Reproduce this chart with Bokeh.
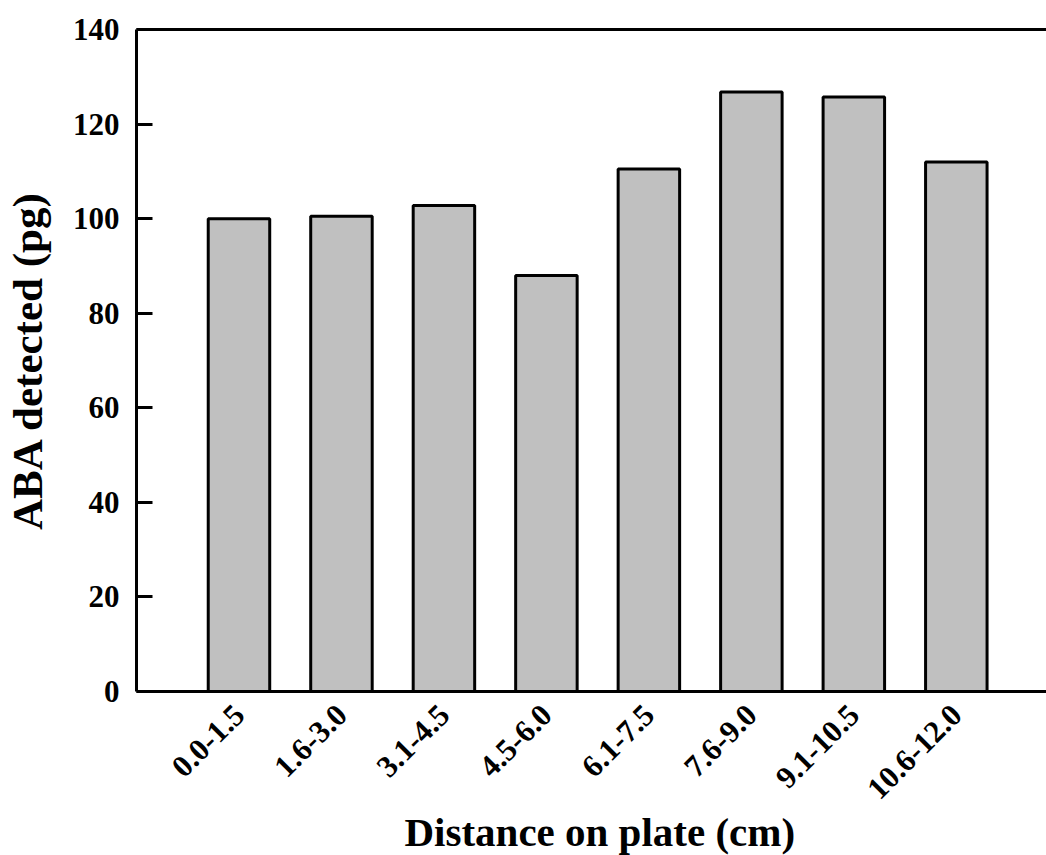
import math
from bokeh.plotting import figure
from bokeh.models import ColumnDataSource, FixedTicker, LinearAxis, Range1d, Title
from bokeh.embed import file_html
from bokeh.resources import INLINE

categories = ["0.0-1.5", "1.6-3.0", "3.1-4.5", "4.5-6.0", "6.1-7.5", "7.6-9.0", "9.1-10.5", "10.6-12.0"]
aba_pg = [100, 100.5, 102.8, 88, 110.5, 126.8, 125.7, 112]
y_ticks = [0, 20, 40, 60, 80, 100, 120, 140]

positions = list(range(1, len(categories) + 1))
source = ColumnDataSource(dict(x=positions, top=aba_pg, label=categories))

FONT = "Liberation Serif"

p = figure(width=1046, height=855, output_backend="svg", toolbar_location=None,
           x_range=Range1d(0, 8.88), y_range=Range1d(0, 140),
           min_border_right=0, min_border_top=29, min_border_left=10, min_border_bottom=164)
p.outline_line_color = None
p.grid.visible = False
p.background_fill_color = "white"
p.border_fill_color = "white"

p.vbar(x="x", top="top", bottom=0, width=0.6, source=source,
       fill_color="#c0c0c0", line_color="black", line_width=3)

xa = p.xaxis[0]
xa.ticker = FixedTicker(ticks=positions)
xa.major_label_overrides = {pos: lab for pos, lab in zip(positions, categories)}
xa.major_label_orientation = math.pi / 4
xa.major_label_text_font = FONT
xa.major_label_text_font_style = "bold"
xa.major_label_text_font_size = "31px"
xa.major_label_text_color = "black"
xa.major_tick_line_color = None
xa.minor_tick_line_color = None
xa.axis_line_width = 3
xa.axis_line_color = "black"
xa.major_label_standoff = 12

x_title = Title(text="Distance on plate (cm)", align="left", offset=268, standoff=-9,
                text_font=FONT, text_font_style="bold", text_font_size="41px",
                text_color="black")
p.add_layout(x_title, "below")

ya = p.yaxis[0]
ya.ticker = FixedTicker(ticks=y_ticks)
ya.major_label_text_font = FONT
ya.major_label_text_font_style = "bold"
ya.major_label_text_font_size = "31px"
ya.major_label_text_color = "black"
ya.major_tick_in = 16
ya.major_tick_out = 0
ya.major_tick_line_width = 3
ya.major_tick_line_color = "black"
ya.minor_tick_line_color = None
ya.axis_line_width = 3
ya.axis_line_color = "black"
ya.major_label_standoff = 17
ya.axis_label = "ABA detected (pg)"
ya.axis_label_text_font = FONT
ya.axis_label_text_font_style = "bold"
ya.axis_label_text_font_size = "43px"
ya.axis_label_text_color = "black"
ya.axis_label_standoff = 19

top_axis = LinearAxis(ticker=FixedTicker(ticks=[]), major_label_text_font_size="0px",
                      major_tick_line_color=None, minor_tick_line_color=None,
                      major_tick_out=0, major_tick_in=0, major_label_standoff=0,
                      axis_line_width=3, axis_line_color="black")
p.add_layout(top_axis, "above")

open("out.html", "w").write(file_html(p, INLINE))
